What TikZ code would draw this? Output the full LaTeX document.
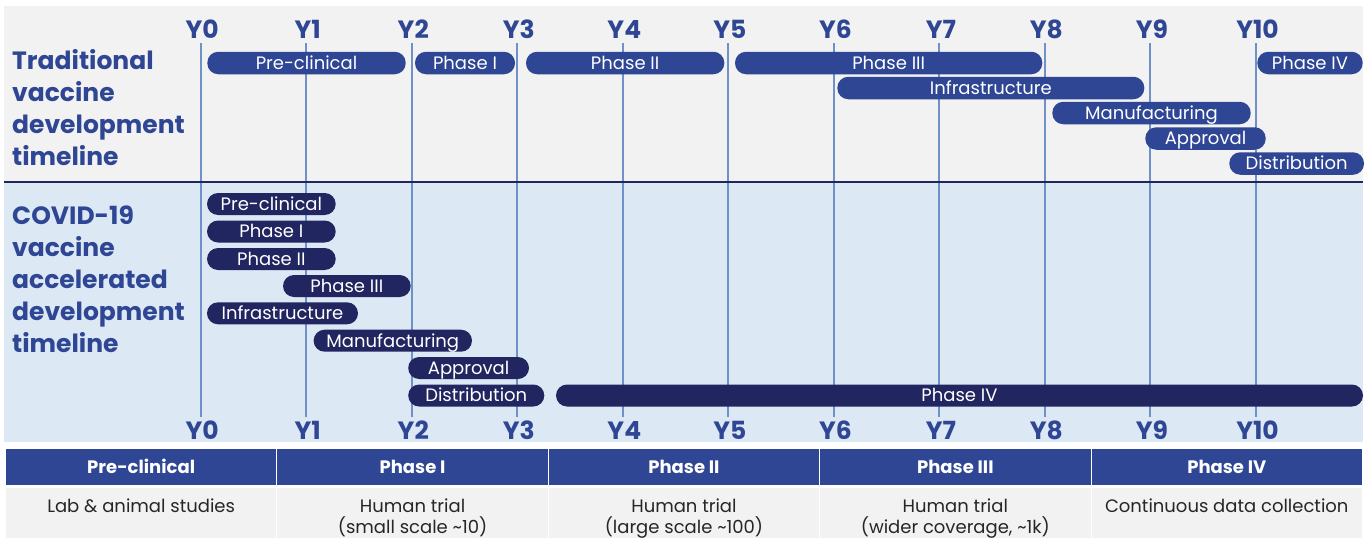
\documentclass[tikz,border=0pt]{standalone}
\usepackage{fontspec}
\setmainfont{Poppins}
\definecolor{tblue}{RGB}{46,70,148}
\definecolor{cnavy}{RGB}{34,38,96}
\definecolor{yline}{RGB}{112,144,200}
\definecolor{graybg}{RGB}{242,242,242}
\definecolor{bluebg}{RGB}{221,232,245}
\newcommand\mybar[6]{\node[#6, minimum width={#3pt-#2pt}] (#1) at ({(#2+#3)/2},#4) {#5};}
\begin{document}
\begin{tikzpicture}[x=1pt,y=-1pt,
  barbase/.style={rounded corners=11pt, inner sep=0pt, text=white,
    font=\fontsize{18}{20}\selectfont, text height=12.6pt, text depth=0pt},
  tbar/.style={barbase, fill=tblue, minimum height=22.5pt},
  cbar/.style={barbase, fill=cnavy, minimum height=22pt},
  yl/.style={draw=yline, line width=2pt},
  ylab/.style={text=tblue, font=\fontsize{25}{25}\selectfont\bfseries, inner sep=0pt},
  ttl/.style={text=tblue, font=\fontsize{25}{32}\selectfont\bfseries, align=left, inner sep=0pt, anchor=north west},
  hdr/.style={fill=tblue, text=white, minimum width=270.3pt, minimum height=36pt, inner sep=0pt,
    font=\fontsize{18}{20}\selectfont\bfseries, text height=12.6pt, text depth=0pt},
  bcell/.style={fill=graybg, minimum width=270.3pt, minimum height=50.5pt, inner sep=0pt},
  btxt/.style={font=\fontsize{18}{20.5}\selectfont, align=center, inner sep=0pt, anchor=north, text=black!85}
]
\useasboundingbox (0,0) rectangle (1365,538);
\fill[white] (0,0) rectangle (1365,538);
\fill[graybg] (4,6) rectangle (1363,181);
\fill[bluebg] (4,183) rectangle (1363,442);

% year lines and labels
\foreach \i in {0,...,10}{
  \pgfmathsetmacro\xx{200.7+105.53*\i}
  \coordinate (lt\i) at (\xx,43);
  \coordinate (lb\i) at (\xx,417);
  \draw[yl] (lt\i) -- (lb\i);
  \node[ylab] (yt\i) at (\xx+1.5,29) {Y\i};
  \node[ylab] (yb\i) at (\xx+1.5,430) {Y\i};
}

% separator
\coordinate (sepL) at (4,182);
\coordinate (sepR) at (1363,182);
\draw[cnavy, line width=2.5pt] (sepL) -- (sepR);

% titles
\node[ttl] (ttrad) at (12,49) {Traditional\\vaccine\\development\\timeline};
\node[ttl] (tcov) at (12,206) {COVID-19\\vaccine\\accelerated\\development\\timeline};

% traditional bars
\mybar{tpre}{207.3}{405.7}{63}{Pre-clinical}{tbar}
\mybar{tp1}{415}{515}{63}{Phase I}{tbar}
\mybar{tp2}{526}{724.3}{63}{Phase II}{tbar}
\mybar{tp3}{735}{1042.3}{63}{Phase III}{tbar}
\mybar{tp4}{1257.3}{1362.7}{63}{Phase IV}{tbar}
\mybar{tinf}{837.3}{1144.3}{88}{Infrastructure}{tbar}
\mybar{tman}{1052.3}{1250.7}{113}{Manufacturing}{tbar}
\mybar{tapp}{1145.3}{1265.7}{138.5}{Approval}{tbar}
\mybar{tdis}{1229.3}{1364}{163.5}{Distribution}{tbar}

% covid bars
\mybar{cpre}{207}{335.7}{204}{Pre-clinical}{cbar}
\mybar{cp1}{207}{335.7}{231.5}{Phase I}{cbar}
\mybar{cp2}{207}{335.7}{259}{Phase II}{cbar}
\mybar{cp3}{283}{410.7}{286}{Phase III}{cbar}
\mybar{cinf}{207}{358}{313.3}{Infrastructure}{cbar}
\mybar{cman}{313.6}{472}{340.7}{Manufacturing}{cbar}
\mybar{capp}{408.2}{529}{368}{Approval}{cbar}
\mybar{cdis}{408.2}{544.3}{395.5}{Distribution}{cbar}
\mybar{cp4}{556}{1363}{395.5}{Phase IV}{cbar}

% table
\foreach \i/\h/\b in {0/Pre-clinical/Lab \& animal studies,
                     1/Phase I/{Human trial\\(small scale \textasciitilde10)},
                     2/Phase II/{Human trial\\(large scale \textasciitilde100)},
                     3/Phase III/{Human trial\\(wider coverage, \textasciitilde1k)},
                     4/Phase IV/Continuous data collection}{
  \pgfmathsetmacro\cx{6+271.4*\i+135.15}
  \node[hdr] (h\i) at (\cx,467) {\h};
  \node[bcell] (c\i) at (\cx,512.75) {};
  \node[btxt] (bt\i) at (\cx,499) {\b};
}
\end{tikzpicture}
\end{document}
